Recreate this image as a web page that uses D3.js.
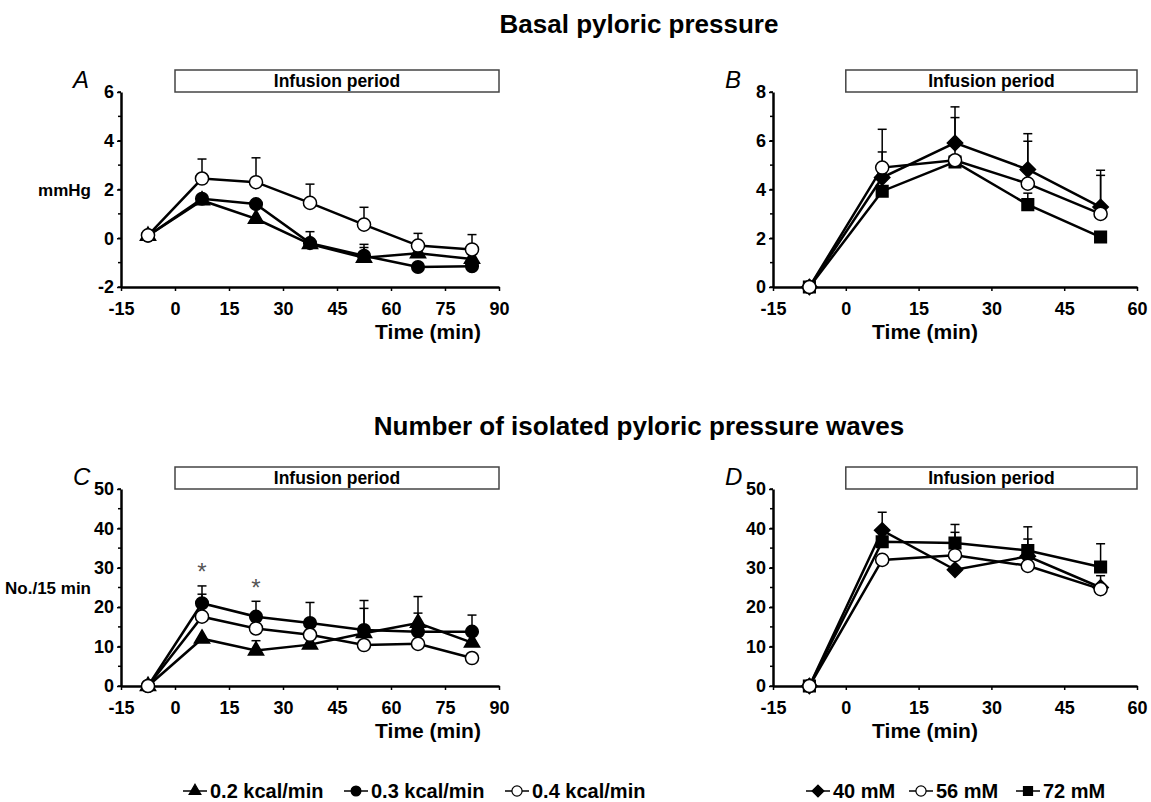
<!DOCTYPE html>
<html>
<head>
<meta charset="utf-8">
<script src="https://cdn.jsdelivr.net/npm/d3@7"></script>
<style>
  body { margin: 0; background: #fff; }
  text { font-family: "Liberation Sans", Arial, Helvetica, sans-serif; }
</style>
</head>
<body>
<div id="chart"></div>
<script>
// time points (min)
let timeAC = [-7.5, 7.5, 22.5, 37.5, 52.5, 67.5, 82.5];
let timeBD = [-7.5, 7.5, 22.5, 37.5, 52.5];

// A - basal pyloric pressure (mmHg), fat loads
let kcal02A = [0.1, 1.55, 0.8, -0.24, -0.8, -0.62, -0.85];
let kcal03A = [0.1, 1.62, 1.4, -0.2, -0.72, -1.18, -1.15];
let kcal04A = [0.12, 2.45, 2.3, 1.45, 0.56, -0.3, -0.46];
let sem02A = [0, 0, 0, 0, 0.42, 0, 0];
let sem03A = [0, 0, 0, 0.47, 0.47, 0, 0];
let sem04A = [0, 0.8, 1.0, 0.77, 0.71, 0.5, 0.61];

// B - basal pyloric pressure (mmHg), concentrations
let mM40B = [0, 4.49, 5.91, 4.82, 3.28];
let mM56B = [0, 4.9, 5.2, 4.24, 3.0];
let mM72B = [0, 3.93, 5.13, 3.38, 2.05];
let sem40B = [0, 1.05, 1.48, 1.47, 1.51];
let sem56B = [0, 1.57, 1.75, 1.74, 1.58];
let sem72B = [0, 0, 0, 0.47, 0];

// C - number of isolated pyloric pressure waves, fat loads
let kcal02C = [0, 12.0, 9.0, 10.5, 13.4, 16.0, 11.0];
let kcal03C = [0, 21.0, 17.6, 16.0, 14.2, 13.8, 13.8];
let kcal04C = [0, 17.6, 14.6, 13.0, 10.4, 10.7, 7.1];
let sem02C = [0, 0, 2.5, 0, 6.3, 6.7, 0];
let sem03C = [0, 4.4, 3.9, 5.2, 7.5, 4.7, 4.2];
let sem04C = [0, 5.7, 0, 0, 0, 0, 0];
let starsC = [7.5, 22.5];

// D - number of isolated pyloric pressure waves, concentrations
let mM40D = [0, 39.5, 29.5, 32.9, 25.0];
let mM56D = [0, 32.0, 33.2, 30.5, 24.6];
let mM72D = [0, 36.6, 36.3, 34.4, 30.2];
let sem40D = [0, 4.6, 0, 4.4, 0];
let sem56D = [0, 0, 5.8, 0, 3.4];
let sem72D = [0, 0, 4.7, 6.0, 5.9];

// axis ticks
let xTicksAC = [-15, 0, 15, 30, 45, 60, 75, 90];
let xTicksBD = [-15, 0, 15, 30, 45, 60];
let yTicksA = [-2, 0, 2, 4, 6];
let yTicksB = [0, 2, 4, 6, 8];
let yTicksCD = [0, 10, 20, 30, 40, 50];

let fatLabels = ["0.2 kcal/min", "0.3 kcal/min", "0.4 kcal/min"];
let concLabels = ["40 mM", "56 mM", "72 mM"];

let width = 1151, height = 802;
let font = "'Liberation Sans', Arial, sans-serif";

let svg = d3.select("#chart").append("svg")
    .attr("width", width)
    .attr("height", height);

// marker styles
let markers = {
    triangle: {type: d3.symbolTriangle, size: 100, fill: "#000"},
    filled:   {type: d3.symbolCircle,   size: 125, fill: "#000"},
    open:     {type: d3.symbolCircle,   size: 135, fill: "#fff"},
    diamond:  {type: d3.symbolDiamond2, size: 150, fill: "#000"},
    square:   {type: d3.symbolSquare,   size: 135, fill: "#000"}
};

let panels = [
    {label: "A", left: 121, right: 499, top: 92, bottom: 287, xDomain: [-15, 90], yDomain: [-2, 6],
     xTicks: xTicksAC, yTicks: yTicksA, minorStep: 1, times: timeAC, yTitle: "mmHg", yTitleY: 196, timeX: 428,
     series: [
        {values: kcal02A, sem: sem02A, marker: "triangle"},
        {values: kcal03A, sem: sem03A, marker: "filled"},
        {values: kcal04A, sem: sem04A, marker: "open"}
     ]},
    {label: "B", left: 773, right: 1137, top: 92, bottom: 287, xDomain: [-15, 60], yDomain: [0, 8],
     xTicks: xTicksBD, yTicks: yTicksB, minorStep: 1, times: timeBD, yTitle: null, timeX: 925,
     series: [
        {values: mM40B, sem: sem40B, marker: "diamond"},
        {values: mM72B, sem: sem72B, marker: "square"},
        {values: mM56B, sem: sem56B, marker: "open"}
     ]},
    {label: "C", left: 121, right: 499, top: 489, bottom: 686, xDomain: [-15, 90], yDomain: [0, 50],
     xTicks: xTicksAC, yTicks: yTicksCD, minorStep: 5, times: timeAC, yTitle: "No./15 min", yTitleY: 594, timeX: 428,
     stars: starsC,
     series: [
        {values: kcal02C, sem: sem02C, marker: "triangle"},
        {values: kcal03C, sem: sem03C, marker: "filled"},
        {values: kcal04C, sem: sem04C, marker: "open"}
     ]},
    {label: "D", left: 773, right: 1137, top: 489, bottom: 686, xDomain: [-15, 60], yDomain: [0, 50],
     xTicks: xTicksBD, yTicks: yTicksCD, minorStep: 5, times: timeBD, yTitle: null, timeX: 925,
     series: [
        {values: mM40D, sem: sem40D, marker: "diamond"},
        {values: mM72D, sem: sem72D, marker: "square"},
        {values: mM56D, sem: sem56D, marker: "open"}
     ]}
];

function symbolPath(name, scale) {
    return d3.symbol().type(markers[name].type).size(markers[name].size * (scale || 1))();
}

function drawPanel(p) {
    let g = svg.append("g");
    let x = d3.scaleLinear().domain(p.xDomain).range([p.left, p.right]);
    let y = d3.scaleLinear().domain(p.yDomain).range([p.bottom, p.top]);

    // infusion period box
    g.append("rect")
        .attr("x", x(0)).attr("y", p.top - 22)
        .attr("width", x(p.xDomain[1]) - x(0)).attr("height", 22)
        .attr("fill", "#fff").attr("stroke", "#444").attr("stroke-width", 1.5);
    g.append("text")
        .attr("x", (x(0) + x(p.xDomain[1])) / 2).attr("y", p.top - 5)
        .attr("text-anchor", "middle")
        .style("font-size", "17.5px").style("font-weight", "bold")
        .text("Infusion period");

    // panel letter
    g.append("text")
        .attr("x", p.left - 48).attr("y", p.top - 4)
        .style("font-size", "24px").style("font-style", "italic")
        .text(p.label);

    // minor y ticks
    let minor = d3.range(p.yDomain[0], p.yDomain[1] + 0.001, p.minorStep);
    g.append("g").selectAll("line").data(minor).join("line")
        .attr("x1", p.left - 3).attr("x2", p.left)
        .attr("y1", d => y(d)).attr("y2", d => y(d))
        .attr("stroke", "#000").attr("stroke-width", 1.5);

    // y axis
    let yAxis = d3.axisLeft(y).tickValues(p.yTicks).tickFormat(d => String(d))
        .tickSize(4).tickPadding(3).tickSizeOuter(0);
    let ya = g.append("g").attr("transform", "translate(" + p.left + ",0)").call(yAxis);
    ya.select(".domain").attr("stroke-width", 2.5);
    ya.selectAll(".tick line").attr("stroke-width", 1.5);
    ya.selectAll("text").style("font-size", "18px").style("font-weight", "bold").style("font-family", font);

    // x axis
    let xAxis = d3.axisBottom(x).tickValues(p.xTicks).tickFormat(d => String(d))
        .tickSize(4).tickPadding(11).tickSizeOuter(0);
    let xa = g.append("g").attr("transform", "translate(0," + p.bottom + ")").call(xAxis);
    xa.select(".domain").attr("stroke-width", 2.5);
    xa.selectAll(".tick line").attr("stroke-width", 1.5);
    xa.selectAll("text").style("font-size", "18px").style("font-weight", "bold").style("font-family", font);

    g.append("text")
        .attr("x", p.timeX).attr("y", p.bottom + 52)
        .attr("text-anchor", "middle")
        .style("font-size", "21px").style("font-weight", "bold")
        .text("Time (min)");

    if (p.yTitle) {
        g.append("text")
            .attr("x", 91).attr("y", p.yTitleY)
            .attr("text-anchor", "end")
            .style("font-size", "17px").style("font-weight", "bold")
            .text(p.yTitle);
    }

    let line = d3.line().x(d => x(d[0])).y(d => y(d[1]));

    // lines
    p.series.forEach(s => {
        g.append("path")
            .datum(p.times.map((t, i) => [t, s.values[i]]))
            .attr("d", line)
            .attr("fill", "none").attr("stroke", "#000").attr("stroke-width", 2.5);
    });

    // error bars (upper SEM)
    p.series.forEach(s => {
        let pts = p.times.map((t, i) => [t, s.values[i], s.sem[i]]).filter(d => d[2] > 0);
        let eb = g.append("g").selectAll("g").data(pts).join("g");
        eb.append("line")
            .attr("x1", d => x(d[0])).attr("x2", d => x(d[0]))
            .attr("y1", d => y(d[1])).attr("y2", d => y(d[1] + d[2]))
            .attr("stroke", "#000").attr("stroke-width", 1.5);
        eb.append("line")
            .attr("x1", d => x(d[0]) - 4.5).attr("x2", d => x(d[0]) + 4.5)
            .attr("y1", d => y(d[1] + d[2])).attr("y2", d => y(d[1] + d[2]))
            .attr("stroke", "#000").attr("stroke-width", 1.5);
    });

    // markers
    p.series.forEach(s => {
        g.append("g").selectAll("path")
            .data(p.times.map((t, i) => [t, s.values[i]]))
            .join("path")
            .attr("d", symbolPath(s.marker))
            .attr("transform", d => "translate(" + x(d[0]) + "," + y(d[1]) + ")")
            .attr("fill", markers[s.marker].fill)
            .attr("stroke", "#000").attr("stroke-width", 1.5);
    });

    // significance stars
    if (p.stars) {
        g.append("g").selectAll("text").data(p.stars).join("text")
            .attr("x", d => x(d))
            .attr("y", (d, i) => i === 0 ? 580 : 596)
            .attr("text-anchor", "middle")
            .attr("fill", "#555")
            .style("font-size", "24px")
            .text("*");
    }
}

panels.forEach(drawPanel);

// section titles
svg.append("text")
    .attr("x", 639).attr("y", 33)
    .attr("text-anchor", "middle")
    .style("font-size", "26px").style("font-weight", "bold")
    .text("Basal pyloric pressure");
svg.append("text")
    .attr("x", 639).attr("y", 435)
    .attr("text-anchor", "middle")
    .style("font-size", "26px").style("font-weight", "bold")
    .text("Number of isolated pyloric pressure waves");

// legends
function drawLegend(labels, names, starts) {
    let lg = svg.append("g").selectAll("g").data(labels).join("g")
        .attr("transform", (d, i) => "translate(" + starts[i] + ",791)");
    lg.append("line")
        .attr("x1", 0).attr("x2", 24)
        .attr("stroke", "#000").attr("stroke-width", 1.5);
    lg.append("path")
        .attr("d", (d, i) => symbolPath(names[i], 0.6))
        .attr("transform", "translate(12,0)")
        .attr("fill", (d, i) => markers[names[i]].fill)
        .attr("stroke", "#000").attr("stroke-width", 1.2);
    lg.append("text")
        .attr("x", 27).attr("y", 7)
        .style("font-size", "20px").style("font-weight", "bold")
        .text(d => d);
}

drawLegend(fatLabels, ["triangle", "filled", "open"], [183, 344, 505]);
drawLegend(concLabels, ["diamond", "open", "square"], [806, 909, 1016]);
</script>
</body>
</html>
